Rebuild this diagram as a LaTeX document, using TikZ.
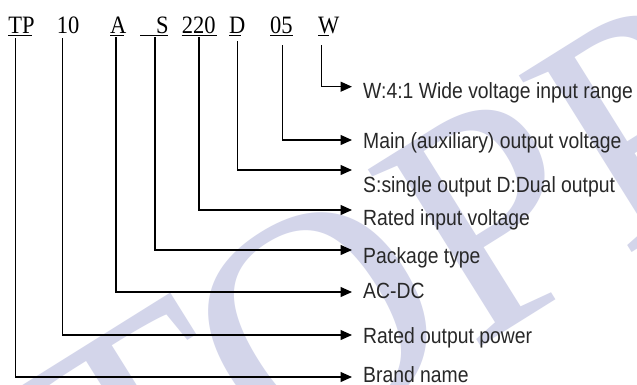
\documentclass[tikz,border=0pt]{standalone}
\usepackage{fontspec}
\usetikzlibrary{arrows.meta}
\newfontfamily\codefont[FakeStretch=0.9]{Liberation Serif}
\newfontfamily\lblfont[FakeStretch=0.88]{Liberation Sans}
\newfontfamily\wmfont{Liberation Serif}
\definecolor{wmcol}{RGB}{211,213,234}
\definecolor{ink}{RGB}{40,40,40}
\tikzset{
  code/.style={anchor=base west, inner sep=0pt, font=\codefont\fontsize{25}{25}\selectfont},
  lbl/.style={anchor=base west, inner sep=0pt, text=ink, font=\lblfont\fontsize{22}{22}\selectfont},
  wm/.style={text=wmcol, inner sep=0pt, anchor=center, rotate=32, font=\wmfont\fontsize{320}{320}\selectfont},
  uline/.style={line width=0.9pt},
  conn/.style={line width=1.3pt, -{Triangle[length=11.5pt,width=10pt]}},
}
\begin{document}
\begin{tikzpicture}[x=1pt,y=-1pt]
\useasboundingbox (0,0) rectangle (637,384);
\fill[white] (0,0) rectangle (637,384);
% watermark
\begin{scope}
\clip (0,0) rectangle (637,384);
\node[wm] (wmT) at (148,431) {T};
\node[wm] (wmO) at (318,324) {O};
\node[wm] (wmP) at (491,216) {P};
\node[wm] (wmQ) at (642,122) {P};
\end{scope}
% code tokens
\node[code] (tp) at (8.3,33) {TP};
\node[code] (n10) at (56.7,33) {10};
\node[code] (a) at (110,33) {A};
\node[code] (s) at (156,33) {S};
\node[code] (v220) at (181.7,33) {220};
\node[code] (d) at (229,33) {D};
\node[code] (v05) at (270,33) {05};
\node[code] (w) at (318,33) {W};
% underlines
\draw[uline] (8.3,35) -- (31.7,35);
\draw[uline] (110,35) -- (124,35);
\draw[uline] (140,35) -- (168,35);
\draw[uline] (181.7,35) -- (216.7,35);
\draw[uline] (229,35) -- (241,35);
\draw[uline] (270,35) -- (293,35);
\draw[uline] (318,35) -- (329,35);
% labels
\node[lbl] (lw) at (363,98) {W:4:1 Wide voltage input range};
\node[lbl] (l05) at (363,148) {Main (auxiliary) output voltage};
\node[lbl] (ld) at (363,192) {S:single output D:Dual output};
\node[lbl] (l220) at (363,225) {Rated input voltage};
\node[lbl] (ls) at (363,263) {Package type};
\node[lbl] (la) at (363,298) {AC-DC};
\node[lbl] (l10) at (363,343) {Rated output power};
\node[lbl] (ltp) at (363,382) {Brand name};
% connector start points
\coordinate (tp-s) at (15.7,38);
\coordinate (n10-s) at (62.7,38);
\coordinate (a-s) at (116,37);
\coordinate (s-s) at (155,37);
\coordinate (v220-s) at (199,37);
\coordinate (d-s) at (237.7,41);
\coordinate (v05-s) at (282.7,45);
\coordinate (w-s) at (321.7,45);
% connector end points
\coordinate (w-e) at (352,86.7);
\coordinate (v05-e) at (352,140);
\coordinate (d-e) at (352,170);
\coordinate (v220-e) at (352,210);
\coordinate (s-e) at (352,250);
\coordinate (a-e) at (352,292);
\coordinate (n10-e) at (352,335);
\coordinate (tp-e) at (352,377);
% connectors
\draw[conn] (w-s) |- (w-e);
\draw[conn] (v05-s) |- (v05-e);
\draw[conn] (d-s) |- (d-e);
\draw[conn] (v220-s) |- (v220-e);
\draw[conn] (s-s) |- (s-e);
\draw[conn] (a-s) |- (a-e);
\draw[conn] (n10-s) |- (n10-e);
\draw[conn] (tp-s) |- (tp-e);
\end{tikzpicture}
\end{document}
